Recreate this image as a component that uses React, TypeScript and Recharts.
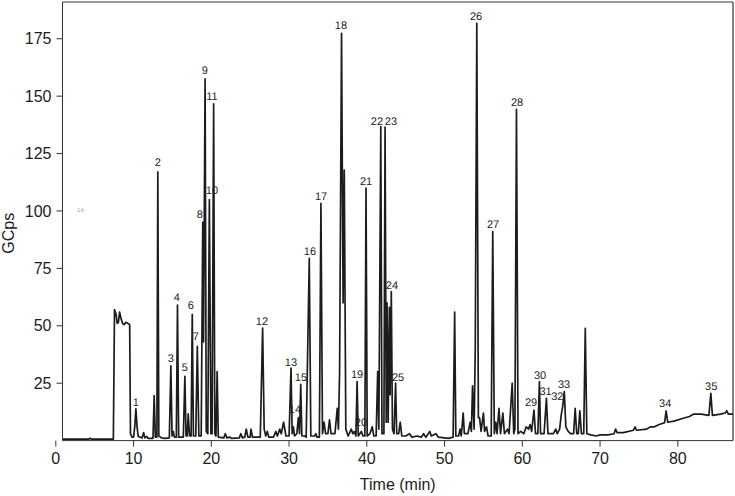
import {
  ComposedChart,
  Line,
  Scatter,
  XAxis,
  YAxis,
  ReferenceLine,
} from "recharts";

// chromatogram trace: [time (min), GCps]
const trace: [number, number][] = [
  [0.9, 0.6], [4.2, 0.6], [4.4, 1.0], [4.6, 0.6], [7.4, 0.6],
  // solvent front
  [7.55, 57], [7.75, 55], [7.9, 51], [8.05, 51.5], [8.2, 56], [8.4, 53], [8.6, 51],
  [8.8, 50.5], [9.0, 51.5], [9.3, 51], [9.5, 50.5], [9.6, 3], [9.8, 1.5], [10.0, 1.5],
  [10.15, 6], [10.3, 13.8], [10.45, 6], [10.6, 1.8],
  [11.1, 1.2], [11.3, 3.5], [11.45, 1.2], [11.7, 1.8], [11.85, 1], [12.5, 1],
  [12.65, 19.6], [12.8, 1.5], [13.0, 1.5], [13.12, 117], [13.25, 2], [13.6, 1.2], [14.0, 1], [14.6, 1.2],
  [14.8, 32.5], [14.95, 2], [15.1, 4], [15.25, 1.5], [15.5, 1.5],
  [15.65, 59], [15.8, 1.5], [16.4, 1.5],
  [16.6, 28], [16.75, 2], [16.9, 2], [17.03, 11.6], [17.2, 2], [17.4, 2],
  [17.55, 55], [17.7, 2], [18.0, 2],
  [18.2, 41], [18.4, 2], [18.7, 2],
  [18.9, 95], [19.0, 43], [19.2, 157.5], [19.35, 4], [19.55, 3], [19.75, 105], [19.95, 3],
  [20.1, 3], [20.3, 146.6], [20.45, 3], [20.6, 2], [20.75, 30], [20.9, 1.5],
  [21.6, 1.2], [21.8, 3], [22.0, 1.2], [22.4, 1.5], [22.6, 1], [23.6, 1.2], [23.8, 3], [24.0, 1.2],
  [24.3, 1.5], [24.5, 5], [24.7, 1.5], [25.0, 1.5], [25.1, 5], [25.3, 1.5], [26.3, 1.5],
  [26.6, 49], [26.8, 5], [27.0, 2], [27.2, 4], [27.4, 1.5], [28.0, 1.5], [28.3, 4], [28.5, 2],
  [28.8, 5], [29.0, 3], [29.3, 8], [29.6, 2], [30.0, 2],
  [30.25, 31.6], [30.4, 3], [30.55, 6], [30.7, 2], [31.0, 3], [31.2, 10], [31.35, 3],
  [31.5, 24.5], [31.65, 2], [32.0, 2], [32.2, 1.5],
  [32.6, 79.4], [32.8, 2], [33.3, 2], [33.45, 3], [33.6, 1.5], [33.9, 1.5],
  [34.1, 103.3], [34.3, 3], [34.5, 8], [34.7, 3], [35.0, 3], [35.2, 9], [35.4, 3], [35.9, 3],
  [36.2, 14], [36.35, 5],
  [36.5, 30], [36.75, 177.4], [36.95, 60], [37.1, 117.8], [37.3, 5], [37.6, 2], [38.0, 5],
  [38.2, 3], [38.4, 4], [38.6, 2],
  [38.75, 25.7], [38.9, 2], [39.1, 3], [39.3, 4], [39.5, 2], [39.75, 2],
  [39.9, 110], [40.05, 2], [40.4, 3], [40.7, 6], [40.9, 2], [41.2, 2], [41.4, 30], [41.55, 5],
  [41.8, 136.7], [41.95, 3], [42.2, 3], [42.35, 136.5], [42.5, 8], [42.6, 60], [42.75, 8],
  [42.9, 58], [43.0, 20], [43.15, 64.9], [43.3, 5], [43.5, 3], [43.7, 25], [43.85, 3],
  [44.1, 3], [44.3, 8], [44.5, 2], [45.0, 2], [45.5, 3], [45.8, 1.5], [46.5, 2], [47.0, 1.5],
  [47.3, 3], [47.6, 1.5], [48.1, 4], [48.3, 2], [48.9, 3], [49.2, 1.5], [50.5, 1], [51.1, 1.5],
  [51.3, 56], [51.45, 2], [51.8, 2], [52.0, 5], [52.15, 2], [52.4, 12], [52.55, 3], [53.0, 3],
  [53.3, 8], [53.45, 4], [53.6, 23.8], [53.8, 5],
  [53.95, 40], [54.15, 181.7], [54.35, 10], [54.5, 10], [54.7, 4], [55.0, 12], [55.15, 4],
  [55.4, 6], [55.6, 2], [56.0, 2],
  [56.2, 91], [56.4, 3], [56.6, 8], [56.75, 3], [57.0, 14], [57.2, 3], [57.5, 12], [57.7, 3],
  [58.1, 5], [58.3, 3], [58.7, 25], [58.9, 3], [59.05, 5],
  [59.25, 144.3], [59.45, 3], [59.8, 4], [60.2, 3], [60.5, 6], [60.8, 5], [61.0, 7], [61.2, 4],
  [61.5, 13.3], [61.7, 3], [62.0, 3], [62.2, 25.7], [62.35, 3], [62.8, 3], [63.1, 18.4],
  [63.3, 3], [63.7, 3], [64.0, 3], [64.3, 5], [64.5, 3], [64.8, 5], [65.0, 11], [65.2, 15],
  [65.4, 21.3], [65.6, 6], [65.9, 4], [66.2, 3], [66.6, 3], [66.8, 14], [67.0, 3], [67.2, 3],
  [67.4, 13], [67.6, 3], [67.9, 3], [68.1, 48.9], [68.3, 3], [68.8, 2.5], [69.5, 2],
  [70.0, 2.5], [71.0, 2.5], [71.8, 3], [72.0, 5], [72.2, 3.5], [73.0, 3.5], [74.3, 4.5],
  [74.5, 6], [74.7, 4.5], [76.0, 5], [76.5, 6], [77.0, 6], [77.6, 7], [78.3, 7.8],
  [78.5, 12.9], [78.7, 8], [79.5, 8.5], [80.5, 9.5], [81.5, 10.5], [82.0, 11.5], [83.0, 11.5],
  [84.0, 11], [84.25, 20.6], [84.45, 11], [85.5, 11.5], [86.1, 12], [86.3, 13], [86.5, 11.5],
  [87.1, 11.5],
];

// peak numbers and where their labels sit (time, GCps)
const labelNames = [
  "1", "2", "3", "4", "5", "6", "7", "8", "9", "10", "11", "12", "13", "14", "15", "16", "17", "18",
  "19", "20", "21", "22", "23", "24", "25", "26", "27", "28", "29", "30", "31", "32", "33", "34", "35",
];
const labelTimes = [
  10.3, 13.13, 14.8, 15.57, 16.6, 17.37, 18.02, 18.53, 19.18, 20.08, 20.08, 26.51, 30.24, 30.76,
  31.53, 32.69, 34.11, 36.68, 38.74, 39.25, 39.9, 41.31, 43.11, 43.24, 44.02, 54.05, 56.24, 59.33,
  61.13, 62.29, 62.99, 64.5, 65.38, 78.38, 84.3,
];
const labelValues = [
  16.4, 120.9, 35.5, 62.1, 31.6, 58.6, 45.1, 98.3, 161, 108.7, 149.7, 51.7, 33.8, 13.3, 27.3, 82.1,
  106.1, 180.6, 28.6, 7.7, 112.6, 138.7, 138.7, 67.3, 27.3, 184.5, 93.9, 147, 16.4, 28.1, 21.2,
  18.9, 24.2, 15.9, 23.3,
];

const xTicks = [0, 10, 20, 30, 40, 50, 60, 70, 80];
const yTicks = [25, 50, 75, 100, 125, 150, 175];

const FONT = "'Liberation Sans', Arial, Helvetica, sans-serif";
const INK = "#1c1c1c";

const traceData = trace.map(([t, v]) => ({ t, v }));
const labelData = labelNames.map((name, i) => ({ t: labelTimes[i], v: labelValues[i], name }));
const stampData = [{ t: 3.2, v: 100.4, name: "1A" }];

function PeakLabel(props: any) {
  const { cx, cy, payload } = props;
  if (cx == null || cy == null) return null;
  return (
    <text
      x={cx}
      y={cy}
      textAnchor="middle"
      dominantBaseline="central"
      fontSize={11}
      fontFamily={FONT}
      fill={INK}
      style={{ textRendering: "geometricPrecision" }}
    >
      {payload.name}
    </text>
  );
}

function Stamp(props: any) {
  const { cx, cy, payload } = props;
  if (cx == null || cy == null) return null;
  return (
    <text x={cx} y={cy} textAnchor="middle" dominantBaseline="central" fontSize={6} fontFamily={FONT} fill="#aaa">
      {payload.name}
    </text>
  );
}

export default function App() {
  return (
    <div style={{ position: "absolute", left: 0, top: 0, width: 735, height: 496, background: "#fff" }}>
      <ComposedChart width={735} height={496} margin={{ top: 2, right: 2, bottom: 0, left: 0 }}>
        <XAxis
          type="number"
          dataKey="t"
          domain={[0.86, 87.1]}
          allowDataOverflow
          ticks={xTicks}
          tickSize={6}
          tickMargin={6}
          height={55.4}
          stroke="#333"
          tick={{ fontSize: 16, fill: INK, fontFamily: FONT }}
          label={{
            content: (p: any) => (
              <text
                x={p.viewBox.x + p.viewBox.width / 2}
                y={p.viewBox.y + 43.5}
                textAnchor="middle"
                dominantBaseline="central"
                fontSize={16}
                fontFamily={FONT}
                fill={INK}
              >
                Time (min)
              </text>
            ),
          }}
        />
        <YAxis
          type="number"
          domain={[0, 191]}
          allowDataOverflow
          ticks={yTicks}
          tickSize={6}
          tickMargin={5}
          width={62.5}
          stroke="#333"
          tick={{ fontSize: 16, fill: INK, fontFamily: FONT }}
          label={{
            content: (p: any) => {
              const cx = p.viewBox.x + 9;
              const cy = p.viewBox.y + p.viewBox.height / 2 + 12;
              return (
                <text
                  x={cx}
                  y={cy}
                  transform={`rotate(-90 ${cx} ${cy})`}
                  textAnchor="middle"
                  dominantBaseline="central"
                  fontSize={16}
                  fontFamily={FONT}
                  fill={INK}
                >
                  GCps
                </text>
              );
            },
          }}
        />
        <ReferenceLine y={191} stroke="#333" strokeWidth={1.2} />
        <ReferenceLine x={87.1} stroke="#333" strokeWidth={1.2} />
        <Line
          data={traceData}
          dataKey="v"
          type="linear"
          stroke={INK}
          strokeWidth={1.7}
          strokeLinejoin="round"
          dot={false}
          activeDot={false}
          isAnimationActive={false}
        />
        <Scatter data={labelData} dataKey="v" shape={<PeakLabel />} isAnimationActive={false} />
        <Scatter data={stampData} dataKey="v" shape={<Stamp />} isAnimationActive={false} />
      </ComposedChart>
    </div>
  );
}
